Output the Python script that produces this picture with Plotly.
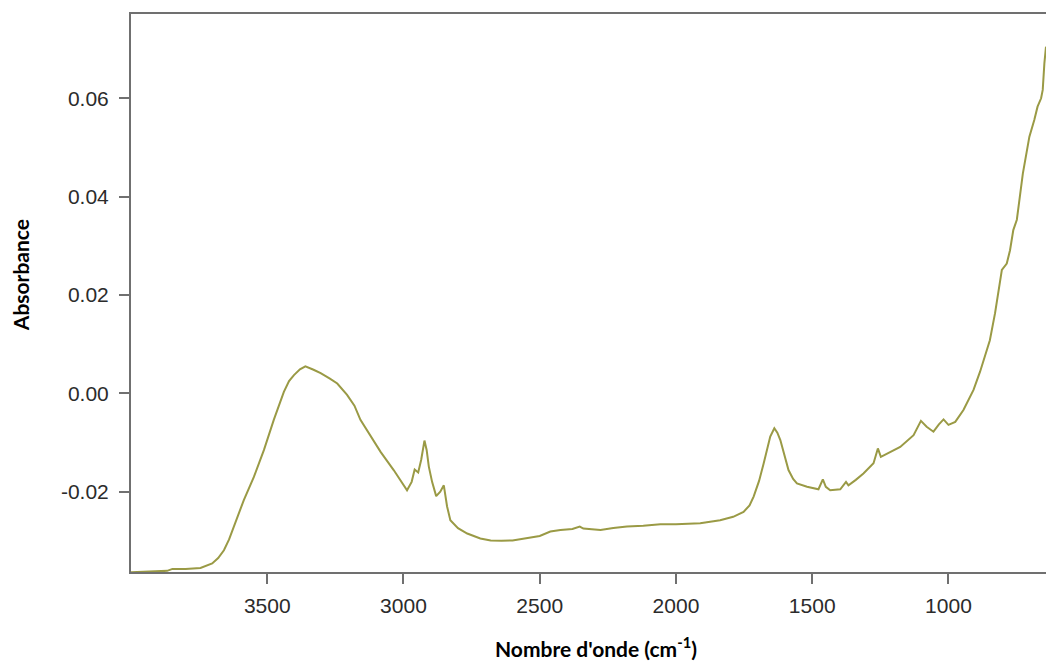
import plotly.graph_objects as go

# Wavenumber (cm-1) and absorbance
wavenumber = [4000, 3950, 3900, 3867, 3848, 3800, 3745, 3702, 3680, 3659, 3640, 3623,
              3600, 3586, 3549, 3512, 3476, 3439, 3420, 3402, 3380, 3360, 3330, 3304,
              3270, 3243, 3207, 3180, 3158, 3120, 3084, 3036, 3000, 2987, 2970, 2959,
              2946, 2935, 2923, 2915, 2907, 2895, 2880, 2865, 2852, 2840, 2828, 2800,
              2766, 2718, 2680, 2640, 2600, 2560, 2500, 2461, 2424, 2380, 2353, 2340,
              2300, 2277, 2230, 2180, 2120, 2057, 2000, 1950, 1911, 1838, 1790, 1752,
              1730, 1715, 1695, 1678, 1665, 1654, 1639, 1628, 1617, 1600, 1587, 1570,
              1556, 1519, 1477, 1461, 1450, 1434, 1397, 1376, 1367, 1340, 1312, 1275,
              1259, 1248, 1210, 1177, 1128, 1101, 1080, 1055, 1035, 1018, 1000, 975,
              945, 908, 884, 848, 829, 817, 804, 786, 774, 762, 749, 727, 703, 685,
              673, 660, 654, 648, 642]
absorbance = [-0.0364, -0.0363, -0.0362, -0.0361, -0.0357, -0.0357, -0.0355, -0.0346,
              -0.0335, -0.0319, -0.0297, -0.0271, -0.0240, -0.0217, -0.0170, -0.0115,
              -0.0054, 0.0003, 0.0025, 0.0037, 0.0049, 0.0055, 0.0048, 0.0041, 0.0030,
              0.0020, -0.0003, -0.0025, -0.0054, -0.0087, -0.0119, -0.0156, -0.0186,
              -0.0197, -0.0180, -0.0155, -0.0161, -0.0135, -0.0096, -0.0115, -0.0149,
              -0.0180, -0.0209, -0.0200, -0.0187, -0.0230, -0.0258, -0.0274, -0.0285,
              -0.0295, -0.0299, -0.0300, -0.0299, -0.0295, -0.0290, -0.0281, -0.0278,
              -0.0276, -0.0271, -0.0275, -0.0277, -0.0278, -0.0274, -0.0271, -0.0269,
              -0.0266, -0.0266, -0.0265, -0.0264, -0.0258, -0.0251, -0.0241, -0.0228,
              -0.0210, -0.0178, -0.0142, -0.0110, -0.0088, -0.0071, -0.0080, -0.0095,
              -0.0130, -0.0156, -0.0174, -0.0183, -0.0190, -0.0195, -0.0175, -0.0190,
              -0.0197, -0.0195, -0.0180, -0.0187, -0.0176, -0.0163, -0.0142, -0.0112,
              -0.0129, -0.0118, -0.0109, -0.0085, -0.0056, -0.0068, -0.0078, -0.0063,
              -0.0053, -0.0064, -0.0058, -0.0034, 0.0007, 0.0044, 0.0108, 0.0163,
              0.0210, 0.0251, 0.0264, 0.0291, 0.0332, 0.0353, 0.0447, 0.0522, 0.0556,
              0.0583, 0.0600, 0.0617, 0.0671, 0.0705]

x_ticks = [3500, 3000, 2500, 2000, 1500, 1000]
y_ticks = [-0.02, 0.00, 0.02, 0.04, 0.06]
y_tick_labels = ["-0.02", "0.00", "0.02", "0.04", "0.06"]

x_title = "Nombre d'onde (cm<sup>-1</sup>)"
y_title = "Absorbance"

axis_color = "#707070"
label_font = dict(family="Liberation Sans, Arial", size=21, color="#2b2b2b")
title_font = dict(family="Lato", size=21, color="#000000")

fig = go.Figure()
fig.add_trace(go.Scatter(
    x=wavenumber, y=absorbance, mode="lines",
    line=dict(color="#9a9a45", width=2),
    showlegend=False, hoverinfo="skip",
))

fig.update_layout(
    width=1046, height=661,
    margin=dict(l=131, r=0, t=14, b=89),
    paper_bgcolor="white", plot_bgcolor="white",
    xaxis=dict(
        range=[4000, 642], tickvals=x_ticks,
        showline=True, linecolor=axis_color, linewidth=2, mirror=True,
        ticks="outside", ticklen=10, tickwidth=2, tickcolor=axis_color,
        showgrid=False, zeroline=False, tickfont=label_font,
        ticklabelstandoff=4,
    ),
    yaxis=dict(
        range=[-0.03633, 0.07714], tickvals=y_ticks, ticktext=y_tick_labels,
        showline=True, linecolor=axis_color, linewidth=2,
        ticks="outside", ticklen=10, tickwidth=2, tickcolor=axis_color,
        showgrid=False, zeroline=False, tickfont=label_font,
        ticklabelstandoff=6,
    ),
    annotations=[
        dict(text="<b>" + x_title + "</b>", xref="paper", yref="paper",
             x=0.508, y=-0.135, xanchor="center", yanchor="middle",
             showarrow=False, font=title_font),
        dict(text="<b>" + y_title + "</b>", xref="paper", yref="paper",
             x=-0.1213, y=0.532, xanchor="center", yanchor="middle",
             textangle=-90, showarrow=False, font=title_font),
    ],
)

# Remove the default page margin so the 1046x661 figure fills the window exactly
fig.write_html("out.html",
               config={"displayModeBar": False},
               post_script="document.body.style.margin='0';document.body.style.overflow='hidden';")
